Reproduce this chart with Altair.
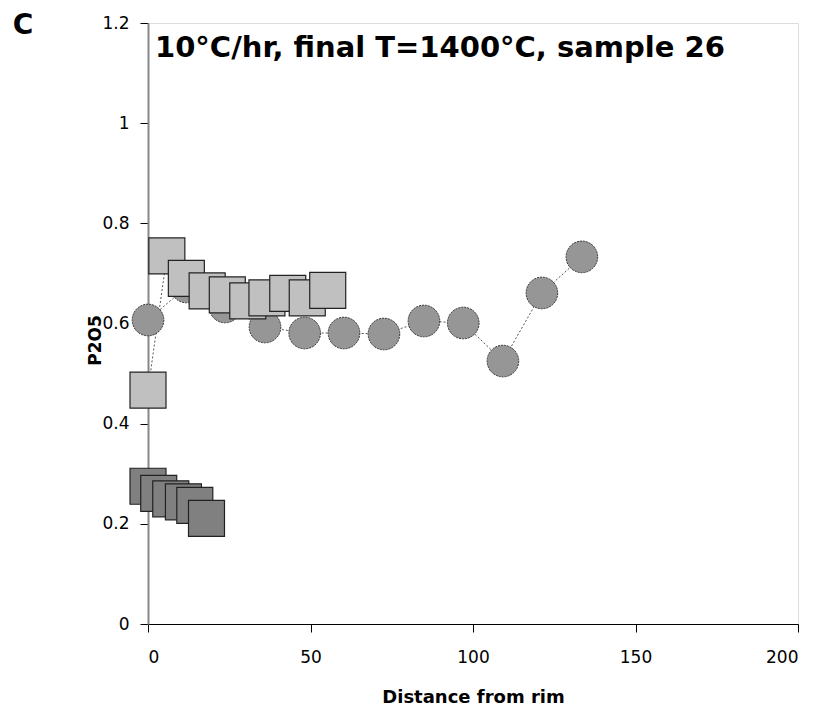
import altair as alt
import pandas as pd

# Circles (medium grey) - main profile
circle_x = [0, 11.8, 23.7, 36.0, 48.2, 60.3, 72.6, 84.9, 97.0, 109.2, 121.2, 133.5]
circle_y = [0.607, 0.673, 0.633, 0.593, 0.581, 0.581, 0.579, 0.605, 0.601, 0.525, 0.661, 0.733]

# Light grey squares
light_x = [0, 5.8, 11.8, 18.2, 24.4, 30.7, 36.6, 43.0, 49.0, 55.3]
light_y = [0.467, 0.735, 0.690, 0.665, 0.657, 0.645, 0.651, 0.660, 0.651, 0.666]

# Dark grey squares
dark_x = [0, 3.3, 7.0, 10.9, 14.4, 18.0]
dark_y = [0.275, 0.261, 0.250, 0.244, 0.237, 0.211]

x_ticks = [0, 50, 100, 150, 200]
y_ticks = [0, 0.2, 0.4, 0.6, 0.8, 1.0, 1.2]
title_text = "10°C/hr, final T=1400°C, sample 26"
panel_label = "C"

FONT = "DejaVu Sans"

def frame(xs, ys):
    return pd.DataFrame({"x": xs, "y": ys, "i": list(range(len(xs)))})

circ_df = frame(circle_x, circle_y)
light_df = frame(light_x, light_y)
dark_df = frame(dark_x, dark_y)

xscale = alt.Scale(domain=[0, 200], nice=False, zero=False)
yscale = alt.Scale(domain=[0, 1.2], nice=False, zero=False)

xenc = alt.X("x:Q", scale=xscale, axis=alt.Axis(
    values=x_ticks, title="Distance from rim", grid=False,
    labelFontSize=17, labelFont=FONT, labelColor="black", labelPadding=17,
    tickSize=8, tickColor="black", domainColor="black", domainWidth=1.2,
    titleFont=FONT, titleFontSize=18, titleFontWeight="bold", titleColor="black",
    titleY=64, titleBaseline="top"))
yenc = alt.Y("y:Q", scale=yscale, axis=alt.Axis(
    values=y_ticks, format=".1~f", title="P2O5", grid=False,
    labelFontSize=17, labelFont=FONT, labelColor="black", labelPadding=11,
    tickSize=8, tickColor="black", domainColor="#888888", domainWidth=2,
    titleFont=FONT, titleFontSize=17, titleFontWeight="bold", titleColor="black",
    titleX=-53, titleY=317, titleAngle=-90, titleBaseline="middle"))

def line(df):
    return alt.Chart(df).mark_line(color="#555555", strokeWidth=1, strokeDash=[2, 2]).encode(
        x=xenc, y=yenc, order="i:Q")

circ_pts = alt.Chart(circ_df).mark_point(
    shape="circle", filled=True, fill="#969696", fillOpacity=1, size=1000,
    stroke="#333333", strokeWidth=1, strokeDash=[2, 1], opacity=1).encode(x=xenc, y=yenc)

light_pts = alt.Chart(light_df).mark_point(
    shape="square", filled=True, fill="#c0c0c0", fillOpacity=1, size=1296,
    stroke="#222222", strokeWidth=1.2, opacity=1).encode(x=xenc, y=yenc)

dark_pts = alt.Chart(dark_df).mark_point(
    shape="square", filled=True, fill="#808080", fillOpacity=1, size=1296,
    stroke="#222222", strokeWidth=1.2, opacity=1).encode(x=xenc, y=yenc)

title_mark = alt.Chart(pd.DataFrame({"t": [title_text]})).mark_text(
    align="left", baseline="alphabetic", font=FONT, fontSize=29, fontWeight="bold", color="black"
).encode(text="t:N", x=alt.value(7), y=alt.value(34))

panel_mark = alt.Chart(pd.DataFrame({"t": [panel_label]})).mark_text(
    align="center", baseline="alphabetic", font=FONT, fontSize=28, fontWeight="bold", color="black"
).encode(text="t:N", x=alt.value(-125), y=alt.value(11))

chart = alt.layer(
    line(circ_df), line(light_df), line(dark_df),
    circ_pts, light_pts, dark_pts, title_mark, panel_mark
).properties(
    width=650, height=601,
    autosize=alt.AutoSizeParams(type="none"),
    padding={"left": 140, "top": 15, "right": 17, "bottom": 82},
).configure_view(stroke="#888888", strokeWidth=1.2).configure(background="white")

chart.save("out.html", embed_options={"renderer": "svg", "actions": False})
